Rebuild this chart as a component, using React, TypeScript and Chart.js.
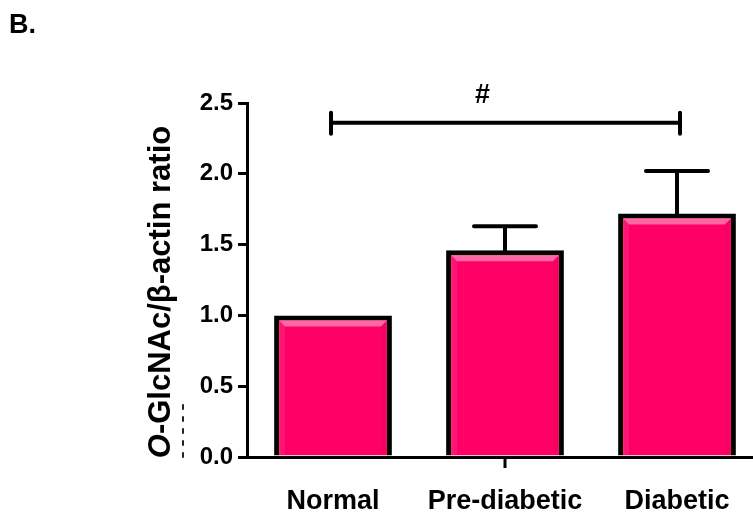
import React, { useEffect, useRef } from "react";
import { Chart, registerables } from "chart.js";

Chart.register(...registerables);

const categories = ["Normal", "Pre-diabetic", "Diabetic"];
const means = [1.0, 1.46, 1.72];
const errors = [0, 0.17, 0.3];
const yTicks = [0, 0.5, 1.0, 1.5, 2.0, 2.5];
const bracketValue = 2.36;
const bracketFrom = 0;
const bracketTo = 2;
const bracketLabel = "#";
const panelLabel = "B.";
const yTitleItalic = "O";
const yTitleRest = "-GlcNAc/\u03b2-actin ratio";

const FONT = "'Liberation Sans', Arial, sans-serif";
const PINK = "#ff0066";

const W = 780;
const H = 515;

const decorPlugin = {
  id: "decor",
  afterDatasetsDraw(chart: any) {
    const ctx = chart.ctx;
    const meta = chart.getDatasetMeta(0);
    const ys = chart.scales.y;
    const xs = chart.scales.x;
    ctx.save();
    // bevel highlight on bars
    meta.data.forEach((bar: any) => {
      const p = bar.getProps(["x", "y", "base", "width"], true);
      const bw = 5;
      const l = p.x - p.width / 2 + bw;
      const r = p.x + p.width / 2 - bw;
      const t = p.y + bw;
      const b = p.base;
      const d = 6;
      ctx.fillStyle = "rgba(255,120,175,0.85)";
      ctx.beginPath();
      ctx.moveTo(l, t);
      ctx.lineTo(r, t);
      ctx.lineTo(r - d, t + d);
      ctx.lineTo(l + d, t + d);
      ctx.closePath();
      ctx.fill();
      ctx.fillStyle = "rgba(255,60,140,0.35)";
      ctx.beginPath();
      ctx.moveTo(l, t);
      ctx.lineTo(l + d, t + d);
      ctx.lineTo(l + d, b - 2);
      ctx.lineTo(l, b);
      ctx.closePath();
      ctx.fill();
      ctx.fillStyle = "rgba(210,0,80,0.2)";
      ctx.beginPath();
      ctx.moveTo(r, t);
      ctx.lineTo(r - d, t + d);
      ctx.lineTo(r - d, b - 2);
      ctx.lineTo(r, b);
      ctx.closePath();
      ctx.fill();
    });
    // error bars
    ctx.strokeStyle = "#000";
    ctx.lineWidth = 4;
    ctx.lineCap = "round";
    meta.data.forEach((bar: any, i: number) => {
      if (!errors[i]) return;
      const p = bar.getProps(["x", "y"], true);
      const yTop = ys.getPixelForValue(means[i] + errors[i]);
      ctx.beginPath();
      ctx.moveTo(p.x, p.y);
      ctx.lineTo(p.x, yTop);
      ctx.moveTo(p.x - 31, yTop);
      ctx.lineTo(p.x + 31, yTop);
      ctx.stroke();
    });
    // x tick under middle category
    const xm = xs.getPixelForValue(1);
    ctx.lineWidth = 3;
    ctx.lineCap = "butt";
    ctx.beginPath();
    ctx.moveTo(xm, ys.bottom);
    ctx.lineTo(xm, ys.bottom + 11);
    ctx.stroke();
    // significance bracket
    const by = ys.getPixelForValue(bracketValue);
    const bx1 = xs.getPixelForValue(bracketFrom) - 2;
    const bx2 = xs.getPixelForValue(bracketTo) + 3;
    ctx.lineWidth = 4;
    ctx.lineCap = "round";
    ctx.beginPath();
    ctx.moveTo(bx1, by);
    ctx.lineTo(bx2, by);
    ctx.moveTo(bx1, by - 10);
    ctx.lineTo(bx1, by + 11);
    ctx.moveTo(bx2, by - 10);
    ctx.lineTo(bx2, by + 11);
    ctx.stroke();
    ctx.fillStyle = "#000";
    ctx.font = `bold 27px ${FONT}`;
    ctx.textAlign = "center";
    ctx.textBaseline = "alphabetic";
    ctx.fillText(bracketLabel, (bx1 + bx2) / 2 - 23, by - 20);
    // panel label
    ctx.textAlign = "left";
    ctx.font = `bold 27px ${FONT}`;
    ctx.fillText(panelLabel, 9, 33);
    // faint dashed artifact left of axis
    ctx.strokeStyle = "#222";
    ctx.lineWidth = 2;
    ctx.setLineDash([4, 8]);
    ctx.beginPath();
    ctx.moveTo(183, 405);
    ctx.lineTo(183, 458);
    ctx.stroke();
    ctx.setLineDash([]);
    // y title
    const cy = (ys.top + ys.bottom) / 2 + 12;
    ctx.translate(170, cy);
    ctx.rotate(-Math.PI / 2);
    const fi = `italic bold 31px ${FONT}`;
    const fb = `bold 31px ${FONT}`;
    ctx.font = fi;
    const w1 = ctx.measureText(yTitleItalic).width;
    ctx.font = fb;
    const w2 = ctx.measureText(yTitleRest).width;
    const x0 = -(w1 + w2) / 2;
    ctx.fillStyle = "#000";
    ctx.font = fi;
    ctx.fillText(yTitleItalic, x0, 0);
    ctx.font = fb;
    ctx.fillText(yTitleRest, x0 + w1, 0);
    ctx.restore();
  },
};

export default function App() {
  const ref = useRef<HTMLCanvasElement | null>(null);
  useEffect(() => {
    document.body.style.overflow = "hidden";
    const canvas = ref.current!;
    const chart = new Chart(canvas, {
      type: "bar",
      data: {
        labels: categories,
        datasets: [
          {
            data: means,
            backgroundColor: PINK,
            borderColor: "#000",
            borderWidth: 5,
            borderSkipped: "start",
            barPercentage: 0.685,
            categoryPercentage: 1,
          },
        ],
      },
      options: {
        animation: false,
        responsive: false,
        devicePixelRatio: 1,
        layout: { padding: { top: 103, right: W - 763, left: 0, bottom: 0 } },
        plugins: { legend: { display: false }, tooltip: { enabled: false } },
        scales: {
          x: {
            offset: true,
            grid: { display: false, drawTicks: false },
            border: { display: true, color: "#000", width: 3 },
            ticks: {
              color: "#000",
              padding: 28,
              font: { family: FONT, size: 27, weight: "bold" },
            },
            afterFit(scale: any) {
              scale.height = H - 457;
            },
          },
          y: {
            min: 0,
            max: 2.5,
            afterBuildTicks(scale: any) {
              scale.ticks = yTicks.map((v) => ({ value: v }));
            },
            grid: {
              drawOnChartArea: false,
              drawTicks: true,
              tickLength: 9,
              lineWidth: 3,
              color: "#000",
            },
            border: { display: true, color: "#000", width: 3 },
            ticks: {
              color: "#000",
              padding: 5,
              font: { family: FONT, size: 24, weight: "bold" },
              callback: (v: any) => Number(v).toFixed(1),
            },
            afterFit(scale: any) {
              scale.width = 247;
            },
          },
        },
      },
      plugins: [decorPlugin],
    });
    return () => chart.destroy();
  }, []);
  return (
    <div style={{ position: "absolute", left: 0, top: 0, width: W, height: H, background: "#fff" }}>
      <canvas ref={ref} width={W} height={H} style={{ width: W, height: H, display: "block" }} />
    </div>
  );
}
